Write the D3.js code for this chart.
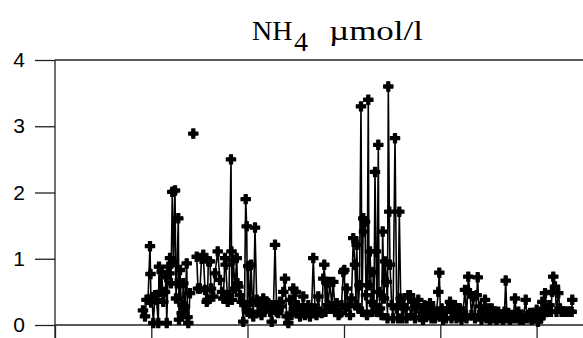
<!DOCTYPE html>
<html>
<head>
<meta charset="utf-8">
<script src="https://cdn.jsdelivr.net/npm/d3@7"></script>
<style>
  html, body { margin: 0; padding: 0; background: #fff; }
  svg { display: block; }
</style>
</head>
<body>
<svg id="chart" width="583" height="338"></svg>
<script>
// ---- data (day offset, NH4 µmol/l); null = gap in the record ----
const nh4Obs = [
  [88,0.22],[90,0.13],[91.5,0.38],[93,0.38],[95,1.19],[95.5,0.77],[96,0.34],[97,0.42],[98.3,0.03],[100,0.45],
  [101.5,0.38],[103.3,0.03],[104,0.88],[105.5,0.5],[106.7,0.8],[108.3,0.35],[110,0.5],[111.2,0.72],[111.7,0.03],[113.3,0.88],
  [114.5,0.78],[115,1.01],[116,0.63],[117.3,2.01],[118.5,0.95],[120,2.03],[121,0.4],[121.7,0.63],[123.3,1.61],[124,0.08],
  [125,0.83],[126.7,0.18],[127.5,0.3],[128.3,0.63],[130,0.28],[131.7,0.93],[132.5,0.12],[133.3,0.03],[135,0.48],
  [136.5,null],[138.3,2.89],[140,null],
  [141.7,1.03],[143,0.55],[145,0.55],[146.5,1.0],[148.3,1.06],[150,0.53],[151.7,0.35],[152.5,0.38],[153.3,0.96],[155,0.96],
  [156,0.55],[158.3,0.43],[160,0.78],[162.7,1.11],[165,0.68],[167,0.5],[168.3,0.4],[170,1.01],[170.7,0.91],[172.7,0.35],
  [174,0.45],[176,2.5],[176.5,1.11],[177,0.38],[178.3,0.98],[180,0.55],[181.7,1.01],[182.5,0.63],[183.3,0.58],[185,0.45],
  [186.7,0.35],[188.3,0.05],[189.5,0.3],[190.7,1.9],[191.7,1.49],[192.5,0.2],[193.3,0.89],[195,0.18],[196,0.91],[197.5,0.35],
  [198.3,0.13],[200,1.47],[201.7,0.38],[203.5,0.2],[205,0.3],[206.5,0.15],[208.3,0.4],[210,0.25],[211.5,0.35],[213.3,0.33],
  [215,0.2],[216.7,0.05],[218.5,0.3],[220,1.21],[221.7,0.2],[223.3,0.18],[225,0.35],[226.7,0.28],[228.3,0.5],[230,0.7],
  [231.7,0.13],[233.3,0.03],[235,0.38],[236.5,0.15],[238.3,0.55],[239.5,0.25],[240.7,0.5],[241.7,0.18],[243,0.3],[245,0.13],
  [246.5,0.25],[248.3,0.43],[250,0.15],[251.7,0.2],[253.3,0.3],[255,0.13],[256.5,0.2],[258.3,1.01],[260,0.25],[261.5,0.15],
  [263.3,0.43],[265,0.2],[266.7,0.18],[268.3,0.7],[269.3,0.91],[270.5,0.2],[271.7,0.63],[273,0.3],[275,0.65],[276.7,0.28],
  [278.3,0.65],[280,0.2],[281.7,0.33],[283.5,0.15],[285,0.18],[286.5,0.3],[288.3,0.8],[289.3,0.83],[290,0.25],[291.7,0.55],
  [293.3,0.28],[295,0.15],[296.5,0.4],[298.3,1.31],[300,0.91],[301,0.3],[301.7,1.21],[303.3,0.25],[304.5,0.6],[306,3.3],
  [307,0.2],[308.3,1.61],[309,1.41],[310,1.56],[311,0.45],[312,0.15],[313.3,3.4],[314,0.6],[315,1.11],[316.7,0.35],
  [317.5,0.2],[318.3,0.8],[319,0.3],[320,2.31],[321,1.11],[322,0.2],[323.3,2.72],[324,0.5],[325,0.25],[326.5,0.15],
  [327.7,1.41],[329,0.4],[330,0.96],[331.7,0.65],[332.5,0.1],[333.3,3.6],[334.3,1.71],[335,0.91],[336.7,0.3],[338,0.1],
  [340,2.82],[341.7,0.25],[343,0.1],[344.3,1.71],[345.7,0.4],[347,0.1],[348.5,0.3],[350,0.25],[351.5,0.1],[353.3,0.45],
  [355,0.45],[356.5,0.15],[358.3,0.35],[360,0.1],[361.5,0.25],[363.3,0.38],[365,0.12],[366.7,0.25],[368,0.08],[369.5,0.3],
  [371,0.12],[373,0.2],[375,0.33],[376.5,0.1],[378.3,0.23],[380,0.1],[381.5,0.2],[383.3,0.5],[384.3,0.79],[385.5,0.15],
  [386.7,0.25],[388,0.08],[389.5,0.2],[391,0.1],[393,0.25],[395,0.35],[396.5,0.1],[398,0.2],[400,0.3],[401.5,0.1],
  [403,0.2],[405,0.25],[406.5,0.08],[408,0.2],[410,0.53],[411.5,0.1],[413.3,0.73],[415,0.48],[416.5,0.15],[418.3,0.43],
  [420,0.1],[421.7,0.45],[422.7,0.72],[424,0.15],[425,0.28],[426.5,0.08],[428,0.2],[430,0.38],[431.5,0.1],[433.3,0.25],
  [435,0.08],[436.7,0.25],[438,0.1],[440,0.2],[441.5,0.08],[443.3,0.2],[445,0.1],[446.5,0.15],[448,0.08],[449.5,0.2],
  [450.7,0.67],[452,0.1],[453.3,0.18],[455,0.08],[456.5,0.15],[458,0.1],[460,0.4],[461.5,0.1],[463.3,0.2],[465,0.08],
  [466.5,0.15],[468,0.08],[470.7,0.38],[472,0.1],[473.5,0.15],[475,0.18],[476.5,0.08],[478,0.15],[480,0.1],[481.7,0.23],
  [483,0.05],[485,0.1],[486,0.2],[487.3,0.35],[488.5,0.15],[490,0.48],[491.7,0.25],[493,0.2],[494.5,0.3],[496,0.2],
  [497,0.5],[498.3,0.73],[500,0.58],[501.5,0.2],[503.3,0.48],[505,0.25],[506.5,0.2],[508.3,0.2],[510,0.2],[511.7,0.2],
  [513.5,0.2],[515,0.2],[516.7,0.2],[517.3,0.38]
];
const yTicks = [0, 1, 2, 3, 4];
const xTicks = [0, 96.3, 192.5, 289, 385.3, 481.6];
const titleMain = "NH";
const titleSub = "4";
const titleUnit = "µmol/l";

// ---- layout ----
const svg = d3.select("#chart");
const x = d3.scaleLinear().domain([0, 528]).range([55, 583]);
const y = d3.scaleLinear().domain([0, 4]).range([325, 60]);
const axisColor = "#222";

// title
const t = svg.append("text")
  .attr("y", 40)
  .attr("font-family", "'Liberation Serif', 'Times New Roman', serif")
  .attr("font-size", 28)
  .attr("fill", "#000");
t.append("tspan").attr("x", 252).text(titleMain);
t.append("tspan").attr("x", 294).attr("dy", 11).text(titleSub);
t.append("tspan").attr("x", 329).attr("dy", -11)
  .attr("textLength", 94).attr("lengthAdjust", "spacingAndGlyphs").text(titleUnit);

// frame lines
svg.append("line").attr("x1", 55).attr("x2", 583).attr("y1", 60).attr("y2", 60)
  .attr("stroke", axisColor).attr("stroke-width", 1.3);
svg.append("line").attr("x1", 55).attr("x2", 55).attr("y1", 60).attr("y2", 338)
  .attr("stroke", axisColor).attr("stroke-width", 1.3);
svg.append("line").attr("x1", 55).attr("x2", 583).attr("y1", 325).attr("y2", 325)
  .attr("stroke", axisColor).attr("stroke-width", 1.3);

// y axis
const gy = svg.append("g").attr("transform", "translate(55,0)")
  .call(d3.axisLeft(y).tickValues(yTicks).tickSize(20).tickPadding(10).tickFormat(d3.format("d")));
gy.select(".domain").remove();
gy.selectAll(".tick line").attr("stroke", axisColor).attr("stroke-width", 1.3);
gy.selectAll(".tick text")
  .attr("font-family", "'Liberation Sans', Arial, sans-serif")
  .attr("font-size", 21).attr("fill", "#000");

// x axis (no labels)
const gx = svg.append("g").attr("transform", "translate(0,325)")
  .call(d3.axisBottom(x).tickValues(xTicks).tickSize(14).tickFormat(""));
gx.select(".domain").remove();
gx.selectAll(".tick line").attr("stroke", axisColor).attr("stroke-width", 1.3);

// series line
const line = d3.line()
  .defined(d => d[1] !== null)
  .x(d => x(d[0]))
  .y(d => y(d[1]));
svg.append("path")
  .datum(nh4Obs)
  .attr("fill", "none")
  .attr("stroke", "#000")
  .attr("stroke-width", 1.6)
  .attr("d", line);

// markers
const sym = d3.symbol().type(d3.symbolCross).size(48);
svg.append("g").selectAll("path")
  .data(nh4Obs.filter(d => d[1] !== null))
  .join("path")
  .attr("transform", d => `translate(${x(d[0])},${y(d[1])})`)
  .attr("d", sym)
  .attr("fill", "#000")
  .attr("stroke", "#000")
  .attr("stroke-width", 1.2)
  .attr("stroke-linejoin", "round");
</script>
</body>
</html>
